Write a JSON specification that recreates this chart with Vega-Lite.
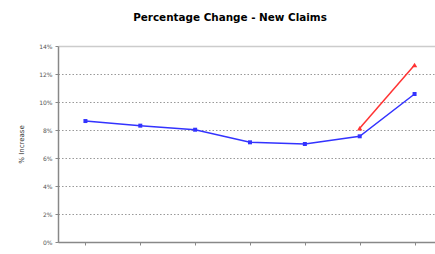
{
  "$schema": "https://vega.github.io/schema/vega-lite/v6.json",
  "autosize": {"type": "none"},
  "padding": {"left": 58, "top": 46, "right": 0, "bottom": 12},
  "width": 384,
  "height": 196,
  "background": "white",
  "title": {
    "text": "Percentage Change - New Claims",
    "font": "DejaVu Sans",
    "fontSize": 10.4,
    "fontWeight": "bold",
    "color": "#000000",
    "anchor": "middle",
    "dx": -20,
    "offset": 20
  },
  "config": {
    "view": {"stroke": null},
    "axis": {"labelFont": "DejaVu Sans", "titleFont": "DejaVu Sans"}
  },
  "data": {
    "values": [
      {"period": 1, "series": "Actual", "pct": 8.64},
      {"period": 2, "series": "Actual", "pct": 8.31},
      {"period": 3, "series": "Actual", "pct": 8.02},
      {"period": 4, "series": "Actual", "pct": 7.12},
      {"period": 5, "series": "Actual", "pct": 7.0},
      {"period": 6, "series": "Actual", "pct": 7.55},
      {"period": 7, "series": "Actual", "pct": 10.57},
      {"period": 6, "series": "Projected", "pct": 8.12},
      {"period": 7, "series": "Projected", "pct": 12.64}
    ]
  },
  "encoding": {
    "x": {
      "field": "period",
      "type": "ordinal",
      "scale": {"paddingInner": 0, "paddingOuter": 0},
      "axis": {
        "title": null,
        "labels": false,
        "bandPosition": 0,
        "domainColor": "#888888",
        "domainWidth": 1.5,
        "tickColor": "#888888",
        "tickSize": 3,
        "grid": false
      }
    },
    "y": {
      "field": "pct",
      "type": "quantitative",
      "scale": {"domain": [0, 14], "nice": false},
      "axis": {
        "title": "% Increase",
        "titleFontSize": 7,
        "titleFontWeight": "normal",
        "titleColor": "#333333",
        "titlePadding": 14,
        "values": [0, 2, 4, 6, 8, 10, 12, 14],
        "labelExpr": "datum.value + '%'",
        "labelFontSize": 6,
        "labelColor": "#555555",
        "labelPadding": 3,
        "domainColor": "#888888",
        "domainWidth": 1.5,
        "tickColor": "#888888",
        "tickSize": 3,
        "grid": true,
        "gridColor": {"condition": {"test": "datum.value === 14", "value": "#cccccc"}, "value": "#999999"},
        "gridDash": {"condition": {"test": "datum.value === 14", "value": []}, "value": [1.5, 2]},
        "gridWidth": {"condition": {"test": "datum.value === 14", "value": 1.5}, "value": 1}
      }
    }
  },
  "layer": [
    {
      "mark": {"type": "line", "strokeWidth": 1.5},
      "encoding": {
        "color": {
          "field": "series",
          "type": "nominal",
          "scale": {"domain": ["Actual", "Projected"], "range": ["#3333ff", "#ff3333"]},
          "legend": null
        }
      }
    },
    {
      "mark": {"type": "point", "filled": true, "opacity": 1},
      "encoding": {
        "color": {
          "field": "series",
          "type": "nominal",
          "scale": {"domain": ["Actual", "Projected"], "range": ["#3333ff", "#ff3333"]},
          "legend": null
        },
        "shape": {
          "field": "series",
          "type": "nominal",
          "scale": {"domain": ["Actual", "Projected"], "range": ["square", "triangle-up"]},
          "legend": null
        },
        "size": {
          "field": "series",
          "type": "nominal",
          "scale": {"domain": ["Actual", "Projected"], "range": [16, 28]},
          "legend": null
        }
      }
    }
  ]
}
